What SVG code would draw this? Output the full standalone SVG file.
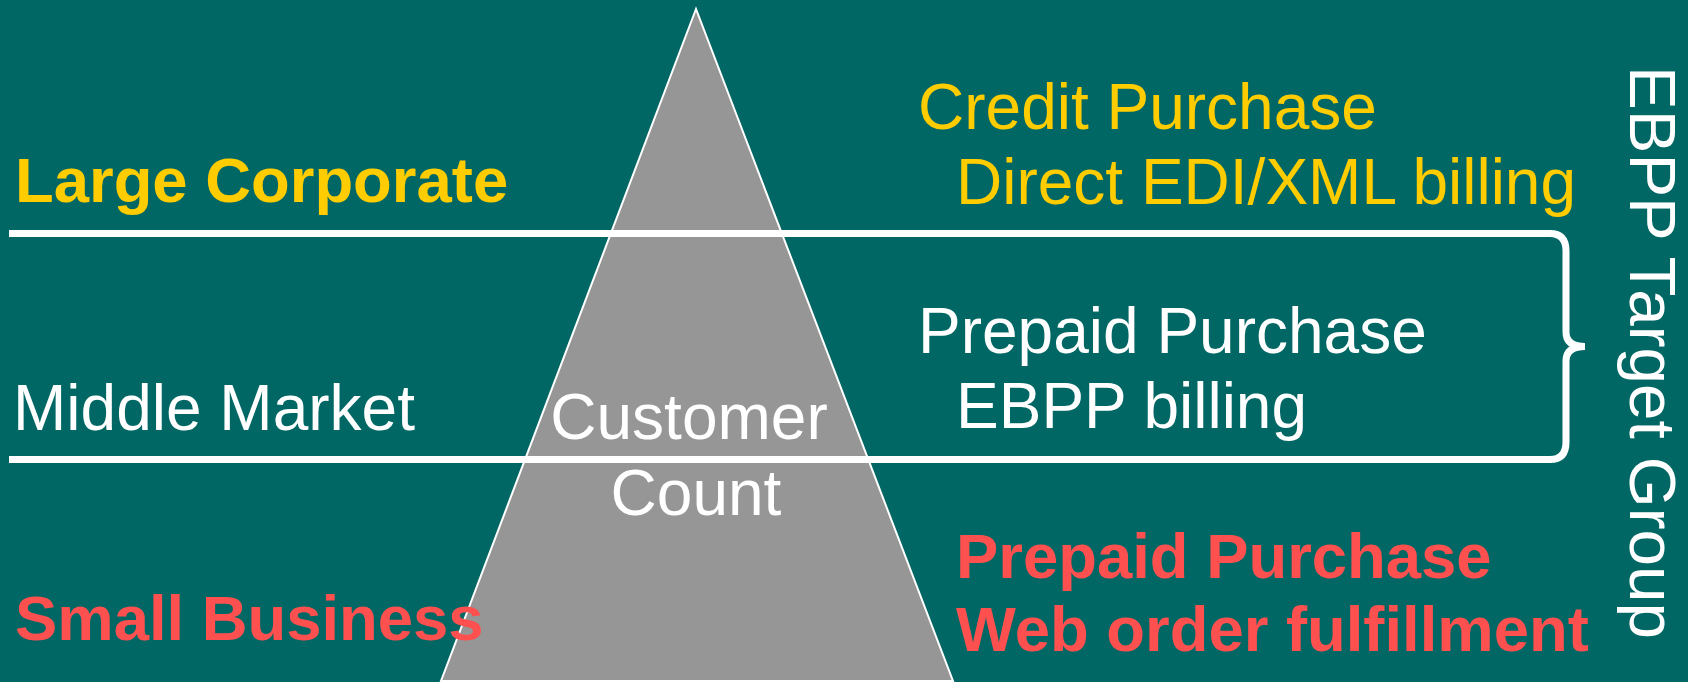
<svg xmlns="http://www.w3.org/2000/svg" width="1688" height="682" viewBox="0 0 1688 682">
  <style>
    text { font-family: "Liberation Sans", Arial, Helvetica, sans-serif; font-size: 64px; }
    .b { font-weight: bold; font-size: 63.4px; }
    .y { fill: #FFCC00; }
    .w { fill: #FFFFFF; }
    .r { fill: #FF5050; }
    .div { stroke: #FFFFFF; stroke-width: 7; fill: none; }
  </style>
  <rect id="background" x="0" y="0" width="1688" height="682" fill="#006764"/>
  <g id="pyramid">
    <polygon points="696,9 441,681 953,681" fill="#969696" stroke="#FFFFFF" stroke-width="2"/>
  </g>
  <g id="connectors">
    <line class="div" x1="9" y1="233.5" x2="1552" y2="233.5"/>
    <line class="div" x1="9" y1="459.5" x2="1552" y2="459.5"/>
    <path class="div" d="M1550,233.5 Q1566,233.5 1566,251 L1566,332 Q1566,346.5 1585,346.5 Q1566,346.5 1566,361 L1566,442 Q1566,459.5 1550,459.5"/>
  </g>
  <g id="large-corporate">
    <text class="b y" x="15" y="202">Large Corporate</text>
  </g>
  <g id="middle-market">
    <text class="w" x="13" y="430">Middle Market</text>
  </g>
  <g id="small-business">
    <text class="b r" x="15" y="640">Small Business</text>
  </g>
  <g id="customer-count">
    <text class="w" x="689" y="439" text-anchor="middle">Customer</text>
    <text class="w" x="696" y="515" text-anchor="middle">Count</text>
  </g>
  <g id="credit-purchase">
    <text class="y" x="918" y="129">Credit Purchase</text>
    <text class="y" x="956" y="204">Direct EDI/XML billing</text>
  </g>
  <g id="prepaid-ebpp">
    <text class="w" x="918" y="353">Prepaid Purchase</text>
    <text class="w" x="956" y="428">EBPP billing</text>
  </g>
  <g id="prepaid-web">
    <text class="b r" x="956" y="578">Prepaid Purchase</text>
    <text class="b r" x="956" y="651">Web order fulfillment</text>
  </g>
  <g id="ebpp-target-group">
    <text class="w" transform="translate(1630,66) rotate(90)" x="0" y="0" style="font-size:65.5px">EBPP Target Group</text>
  </g>
</svg>
